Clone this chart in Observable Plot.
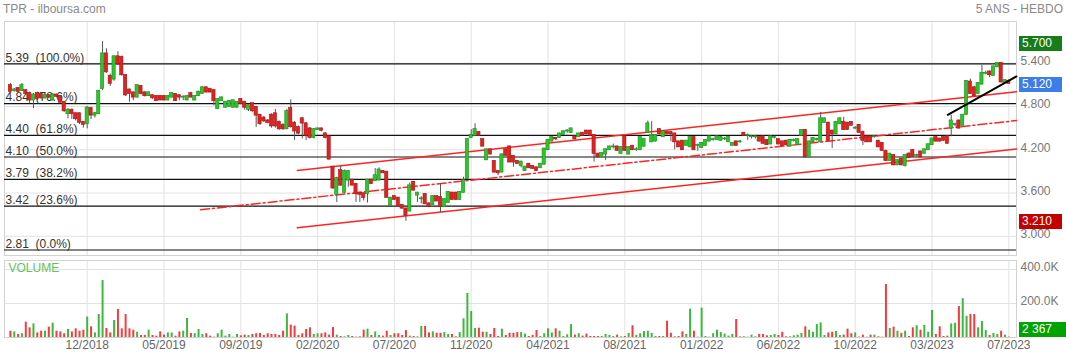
<!DOCTYPE html>
<html><head><meta charset="utf-8">
<script src="https://cdn.jsdelivr.net/npm/d3@7"></script>
<script src="https://cdn.jsdelivr.net/npm/@observablehq/plot@0.6"></script>
<style>
body{margin:0;background:#fff;font-family:"Liberation Sans",Arial,sans-serif;}
#wrap{position:relative;width:1066px;height:359px;overflow:hidden}
.abs{position:absolute}
.hdr{position:absolute;top:2px;font-size:12px;color:#8a8a8a;line-height:14px;white-space:nowrap}
.box{position:absolute;left:1019px;width:43px;height:15px;line-height:15px;color:#fff;font-size:12px;padding-left:3px;box-sizing:border-box;white-space:nowrap}
</style></head><body>
<div id="wrap">
 <div id="price" class="abs" style="left:0;top:0"></div>
 <div id="vol" class="abs" style="left:0;top:258px"></div>
 <div class="hdr" style="left:3px">TPR - ilboursa.com</div>
 <div class="hdr" style="right:3px">5 ANS - HEBDO</div>
</div>
<script>
// ---- weekly OHLC (TND) ----
const open = [
5.09,5.02,5.05,5.02,5.02,4.98,4.89,4.98,4.97,4.92,
4.95,4.89,4.96,4.94,4.86,4.70,4.75,4.70,4.70,4.58,
4.56,4.77,4.68,4.70,5.05,5.53,5.22,5.18,5.49,5.48,
5.23,5.03,4.99,4.93,5.08,4.99,4.95,4.95,4.94,4.94,
4.94,4.89,4.93,4.97,4.95,4.93,4.89,4.98,4.89,4.95,
4.98,5.06,5.04,5.02,4.77,4.88,4.79,4.80,4.79,4.79,
4.90,4.86,4.76,4.84,4.79,4.68,4.64,4.60,4.68,4.70,
4.58,4.54,4.49,4.77,4.57,4.51,4.63,4.56,4.49,4.37,
4.48,4.49,4.42,4.38,3.96,3.58,3.91,3.61,3.78,3.78,
3.72,3.60,3.59,3.59,3.78,3.77,3.78,3.90,3.89,3.43,
3.55,3.53,3.43,3.38,3.35,3.75,3.57,3.52,3.58,3.45,
3.44,3.55,3.54,3.41,3.47,3.60,3.60,3.51,3.61,3.80,
4.37,4.40,4.44,4.34,4.06,4.20,4.04,3.90,3.89,4.20,
4.24,4.11,4.04,3.98,3.91,4.00,3.97,3.95,3.95,4.00,
4.20,4.32,4.36,4.37,4.41,4.46,4.44,4.38,4.38,4.43,
4.46,4.46,4.40,4.14,4.10,4.14,4.20,4.24,4.24,4.15,
4.38,4.14,4.25,4.20,4.20,4.25,4.44,4.31,4.32,4.48,
4.38,4.44,4.44,4.42,4.31,4.32,4.26,4.24,4.37,4.26,
4.23,4.26,4.32,4.34,4.34,4.33,4.35,4.31,4.26,4.31,
4.31,4.43,4.40,4.38,4.38,4.37,4.38,4.33,4.28,4.37,
4.34,4.31,4.32,4.25,4.33,4.27,4.40,4.47,4.10,4.31,
4.34,4.31,4.58,4.57,4.46,4.42,4.56,4.58,4.57,4.58,
4.50,4.54,4.44,4.38,4.38,4.38,4.32,4.29,4.18,4.05,
4.12,3.99,4.07,3.98,4.14,4.19,4.12,4.17,4.15,4.20,
4.27,4.37,4.35,4.37,4.38,4.50,4.55,4.60,4.54,4.69,
5.14,5.06,4.98,5.11,5.26,5.28,5.23,5.35,5.40,5.13,
5.15];
const high = [
5.12,5.05,5.06,5.12,5.03,5.00,4.98,5.00,4.99,4.97,
4.96,4.98,4.97,4.95,4.87,4.77,4.76,4.71,4.71,4.59,
4.80,4.79,4.72,5.02,5.70,5.60,5.25,5.50,5.56,5.50,
5.24,5.04,5.00,5.10,5.09,5.00,5.00,4.96,4.95,4.95,
4.95,4.95,4.99,4.98,4.96,4.95,4.95,4.99,4.95,5.01,
5.07,5.07,5.05,5.03,4.91,4.93,4.87,4.88,4.89,4.87,
4.91,4.87,4.82,4.85,4.80,4.69,4.66,4.62,4.70,4.76,
4.60,4.56,4.76,4.89,4.59,4.53,4.65,4.58,4.51,4.49,
4.50,4.50,4.44,4.39,3.97,3.82,3.97,3.92,3.91,3.79,
3.73,3.61,3.60,3.79,3.79,3.94,3.95,3.91,3.90,3.54,
3.56,3.54,3.44,3.39,3.74,3.76,3.61,3.55,3.59,3.46,
3.56,3.56,3.73,3.52,3.62,3.61,3.61,3.62,3.82,4.35,
4.48,4.56,4.45,4.35,4.21,4.21,4.05,3.91,4.14,4.21,
4.25,4.12,4.05,4.04,3.97,4.01,3.98,3.96,4.01,4.22,
4.34,4.38,4.37,4.43,4.46,4.48,4.50,4.39,4.43,4.44,
4.47,4.47,4.41,4.15,4.16,4.21,4.25,4.28,4.25,4.24,
4.39,4.24,4.26,4.23,4.38,4.35,4.60,4.59,4.41,4.49,
4.46,4.45,4.45,4.43,4.32,4.33,4.33,4.38,4.38,4.28,
4.30,4.34,4.39,4.36,4.39,4.38,4.37,4.38,4.30,4.32,
4.33,4.44,4.42,4.40,4.40,4.38,4.39,4.34,4.39,4.39,
4.35,4.32,4.33,4.34,4.35,4.35,4.48,4.48,4.32,4.37,
4.36,4.72,4.64,4.58,4.47,4.59,4.64,4.65,4.58,4.59,
4.52,4.55,4.46,4.39,4.39,4.40,4.33,4.30,4.19,4.15,
4.13,4.06,4.08,4.13,4.16,4.20,4.14,4.18,4.21,4.28,
4.36,4.38,4.36,4.38,4.39,4.68,4.57,4.61,4.69,5.16,
5.18,5.08,5.13,5.37,5.29,5.29,5.36,5.41,5.41,5.17,
5.17];
const low = [
4.99,5.00,4.99,5.01,4.96,4.84,4.77,4.88,4.90,4.90,
4.91,4.88,4.92,4.84,4.72,4.63,4.62,4.60,4.55,4.50,
4.49,4.62,4.64,4.69,5.02,5.26,5.08,5.15,5.37,5.22,
4.94,4.86,4.88,4.92,4.96,4.93,4.94,4.90,4.87,4.88,
4.88,4.88,4.92,4.87,4.88,4.88,4.88,4.92,4.88,4.94,
4.97,4.99,4.99,4.81,4.76,4.87,4.78,4.79,4.78,4.78,
4.83,4.75,4.73,4.72,4.51,4.54,4.58,4.56,4.50,4.50,
4.47,4.47,4.48,4.50,4.33,4.41,4.35,4.33,4.35,4.35,
4.47,4.45,4.35,4.06,3.65,3.47,3.69,3.59,3.68,3.70,
3.47,3.47,3.49,3.46,3.72,3.76,3.77,3.87,3.53,3.42,
3.50,3.42,3.38,3.21,3.34,3.63,3.47,3.45,3.44,3.40,
3.43,3.48,3.33,3.40,3.46,3.50,3.50,3.50,3.60,3.79,
4.36,4.39,4.39,4.24,4.05,4.13,3.88,3.84,3.88,4.11,
4.02,3.96,4.00,3.95,3.90,3.94,3.93,3.90,3.94,3.99,
4.19,4.31,4.33,4.36,4.40,4.43,4.43,4.34,4.37,4.39,
4.41,4.39,4.03,4.09,4.09,4.05,4.19,4.21,4.18,4.14,
4.18,4.13,4.19,4.18,4.19,4.24,4.43,4.30,4.31,4.41,
4.37,4.41,4.31,4.20,4.23,4.19,4.25,4.23,4.19,4.18,
4.22,4.25,4.31,4.32,4.33,4.32,4.33,4.30,4.25,4.25,
4.29,4.39,4.33,4.35,4.35,4.31,4.28,4.26,4.27,4.35,
4.27,4.25,4.26,4.24,4.31,4.26,4.39,4.09,4.09,4.30,
4.32,4.30,4.57,4.32,4.22,4.41,4.55,4.47,4.47,4.53,
4.48,4.43,4.26,4.30,4.30,4.36,4.23,4.18,4.04,4.04,
3.98,3.98,3.98,3.96,4.08,4.10,4.10,4.09,4.14,4.19,
4.26,4.31,4.31,4.32,4.28,4.38,4.52,4.49,4.53,4.68,
4.97,4.94,4.97,5.10,5.24,5.20,5.22,5.34,5.13,5.12,
5.12];
const close = [
5.01,5.03,5.01,5.09,4.98,4.89,4.96,4.91,4.92,4.95,
4.93,4.96,4.94,4.86,4.74,4.75,4.70,4.63,4.58,4.55,
4.78,4.68,4.70,5.01,5.53,5.28,5.12,5.49,5.39,5.24,
4.96,4.98,4.93,5.09,4.98,4.95,4.99,4.92,4.88,4.89,
4.89,4.94,4.98,4.88,4.93,4.93,4.94,4.93,4.94,5.00,
5.06,5.00,5.00,4.88,4.90,4.92,4.86,4.87,4.88,4.86,
4.84,4.79,4.81,4.74,4.68,4.56,4.60,4.58,4.53,4.53,
4.49,4.49,4.73,4.52,4.46,4.43,4.57,4.40,4.37,4.48,
4.49,4.47,4.37,4.07,3.67,3.80,3.71,3.90,3.90,3.71,
3.59,3.58,3.54,3.78,3.73,3.84,3.92,3.88,3.54,3.53,
3.51,3.43,3.39,3.29,3.70,3.64,3.60,3.52,3.45,3.41,
3.55,3.49,3.41,3.51,3.61,3.51,3.51,3.61,3.77,4.34,
4.40,4.48,4.40,4.25,4.20,4.14,3.89,3.88,4.13,4.12,
4.03,4.03,4.01,4.03,3.96,3.95,3.94,3.91,4.00,4.21,
4.33,4.37,4.35,4.42,4.45,4.46,4.49,4.35,4.42,4.40,
4.42,4.40,4.15,4.10,4.15,4.20,4.24,4.24,4.19,4.23,
4.19,4.23,4.20,4.20,4.37,4.34,4.56,4.40,4.40,4.42,
4.45,4.42,4.42,4.31,4.24,4.20,4.32,4.37,4.20,4.26,
4.29,4.33,4.38,4.34,4.38,4.37,4.35,4.37,4.29,4.26,
4.31,4.40,4.40,4.38,4.38,4.32,4.29,4.27,4.38,4.37,
4.28,4.26,4.27,4.33,4.33,4.34,4.47,4.10,4.31,4.36,
4.34,4.63,4.63,4.33,4.42,4.58,4.63,4.48,4.48,4.54,
4.50,4.44,4.33,4.31,4.31,4.38,4.24,4.19,4.05,4.14,
3.99,4.05,3.99,4.12,4.09,4.11,4.12,4.10,4.20,4.27,
4.35,4.32,4.32,4.33,4.29,4.60,4.55,4.50,4.68,5.15,
4.98,4.95,5.12,5.26,5.26,5.24,5.35,5.40,5.14,5.16,
5.12];
// weekly volume, thousands of shares
const volK = [
37,33,18,22,90,57,80,27,37,37,
61,84,37,33,22,47,33,51,37,43,
120,63,27,135,335,53,27,100,165,51,
135,51,43,31,12,12,43,12,8,33,
14,27,27,8,33,37,112,24,22,47,
18,22,8,2,22,43,8,18,2,18,
10,14,12,18,22,24,12,22,18,18,
12,37,139,73,67,12,22,47,57,18,
22,22,27,14,59,14,6,4,12,6,
2,4,43,49,12,33,12,8,37,12,
22,22,12,41,8,6,4,65,65,27,
33,25,25,29,18,18,4,29,110,259,
153,53,55,31,31,18,53,6,49,12,
25,25,29,29,20,6,12,41,6,22,
51,27,51,37,6,16,76,14,22,8,
20,6,6,6,6,18,12,6,14,4,
6,24,69,12,22,35,37,24,6,6,
6,96,25,4,6,33,18,167,37,2,
173,6,2,22,43,29,20,8,18,106,
4,4,2,14,4,18,18,10,12,18,
12,31,4,4,10,14,24,63,43,31,
76,86,12,27,31,35,12,14,49,22,
27,2,14,2,14,14,4,2,312,53,
61,37,25,37,6,57,69,43,71,31,
159,18,63,6,8,80,84,182,229,125,
135,135,57,94,41,12,24,18,37,14,
2.367];

// axis ticks (week index) and their labels
const xTickIdx = [20,40,60,80,100,120,140,160,180,200,220,240,260];
const xTickLabels = ["12/2018","05/2019","09/2019","02/2020","07/2020","11/2020","04/2021","08/2021","01/2022","06/2022","10/2022","03/2023","07/2023"];
const priceTicks = [3.0, 3.6, 4.2, 4.8, 5.4];
const volTicks = [200000, 400000];

// Fibonacci retracement levels
const fibLevels = [5.39, 4.84, 4.40, 4.10, 3.79, 3.42, 2.81];
const fibPct = ["100.0%", "78.6%", "61.8%", "50.0%", "38.2%", "23.6%", "0.0%"];

// drawn trend lines (week index, price)
const channelUpper = [{i: 74.7, v: 3.913}, {i: 262, v: 5.004}];
const channelLower = [{i: 74.7, v: 3.118}, {i: 262, v: 4.210}];
const channelMid   = [{i: 49.5, v: 3.368}, {i: 262, v: 4.605}];
const trendBlack   = [{i: 244.1, v: 4.685}, {i: 262, v: 5.217}];

// right-side value tags
const maxPrice = 5.70, minPrice = 3.21, lastPrice = 5.12, lastVolume = 2367;

const FONT = '"Liberation Sans", Arial, sans-serif';
const G = "#2ec42e", GS = "#1b8f1b", R = "#e02222", RS = "#a51515";
const candles = close.map((c, i) => ({i, o: open[i], h: high[i], l: low[i], c, v: volK[i] * 1000, up: c >= open[i]}));
const fib = fibLevels.map((v, k) => ({v, label: v.toFixed(2) + "\u00a0\u00a0(" + fibPct[k] + ")"}));
const xLab = new Map(xTickIdx.map((d, k) => [d, xTickLabels[k]]));
const xDomain = [-1.54, 262.0];
const grid = "#e2e2e2";

const price = Plot.plot({
  width: 1066, height: 258,
  marginTop: 21, marginBottom: 3, marginLeft: 4, marginRight: 50,
  x: {domain: xDomain, axis: null},
  y: {domain: [2.734, 5.979], axis: null},
  style: {fontFamily: FONT, fontSize: "12px", background: "transparent", overflow: "visible"},
  marks: [
    Plot.ruleY(priceTicks, {stroke: grid}),
    Plot.ruleX(xTickIdx, {stroke: grid}),
    Plot.frame({stroke: "#d2d2d2"}),
    Plot.text(priceTicks, {y: d => d, frameAnchor: "right", dx: 4, dy: -2, textAnchor: "start", text: d => d.toFixed(3), fill: "#777", fontSize: 12}),
    Plot.ruleY(fibLevels, {stroke: "#111", strokeWidth: 1.2}),
    Plot.text(fib, {y: "v", text: "label", frameAnchor: "left", dx: 1, dy: -6, textAnchor: "start", fill: "#333", fontSize: 12}),
    Plot.line(channelUpper, {x: "i", y: "v", stroke: "#ff2424", strokeWidth: 1.5}),
    Plot.line(channelLower, {x: "i", y: "v", stroke: "#ff2424", strokeWidth: 1.5}),
    Plot.line(channelMid, {x: "i", y: "v", stroke: "#ff2424", strokeWidth: 1.5, strokeDasharray: "9,3,2,3"}),
    Plot.ruleX(candles, {x: "i", y1: "l", y2: "h", stroke: "#555", strokeWidth: 1}),
    Plot.rect(candles, {x1: d => d.i - 0.42, x2: d => d.i + 0.42, y1: "o", y2: "c",
      fill: d => d.up ? G : R, stroke: d => d.up ? GS : RS, strokeWidth: 0.6,
      insetTop: -0.5, insetBottom: -0.5}),
    Plot.line(trendBlack, {x: "i", y: "v", stroke: "#000", strokeWidth: 2})
  ]
});
document.getElementById("price").appendChild(price);

const vol = Plot.plot({
  width: 1066, height: 101,
  marginTop: 2, marginBottom: 22, marginLeft: 4, marginRight: 50,
  x: {domain: xDomain, axis: null},
  y: {domain: [0, 453000], axis: null},
  style: {fontFamily: FONT, fontSize: "12px", background: "transparent", overflow: "visible"},
  marks: [
    Plot.ruleY(volTicks, {stroke: grid}),
    Plot.ruleX(xTickIdx, {stroke: grid, insetBottom: -4}),
    Plot.frame({stroke: "#d2d2d2"}),
    Plot.ruleX(candles, {x: "i", y1: 0, y2: "v", stroke: d => d.up ? "#3cb83c" : "#f53b3b", strokeWidth: 2}),
    Plot.text(volTicks, {y: d => d, frameAnchor: "right", dx: 4, dy: -2, textAnchor: "start", text: d => (d / 1000).toFixed(1) + "K", fill: "#777", fontSize: 12}),
    Plot.text(xTickIdx, {x: d => d, frameAnchor: "bottom", dy: 11, text: d => xLab.get(d), fill: "#666", fontSize: 12}),
    Plot.text(["VOLUME"], {frameAnchor: "top-left", dx: 4, dy: 3, textAnchor: "start", text: d => d, fill: "#5cc45c", fontSize: 12})
  ]
});
document.getElementById("vol").appendChild(vol);

// value tags positioned through the plot scales
const wrap = document.getElementById("wrap");
function tag(text, top, bg) {
  const el = document.createElement("div");
  el.className = "box";
  el.style.top = top + "px";
  el.style.background = bg;
  el.textContent = text;
  wrap.appendChild(el);
  return el;
}
const ys = price.scale("y"), vs = vol.scale("y");
tag(maxPrice.toFixed(3), ys.apply(maxPrice) - 5, "#187c18");
tag(lastPrice.toFixed(3), ys.apply(lastPrice) - 6, "#3b7de9");
tag(minPrice.toFixed(3), ys.apply(minPrice) - 7, "#c20000");
const vt = tag(d3.format(",")(lastVolume).replace(",", " "), 258 + vs.apply(0) - 15, "#00a300");
vt.style.width = "47px";
</script>
</body></html>
